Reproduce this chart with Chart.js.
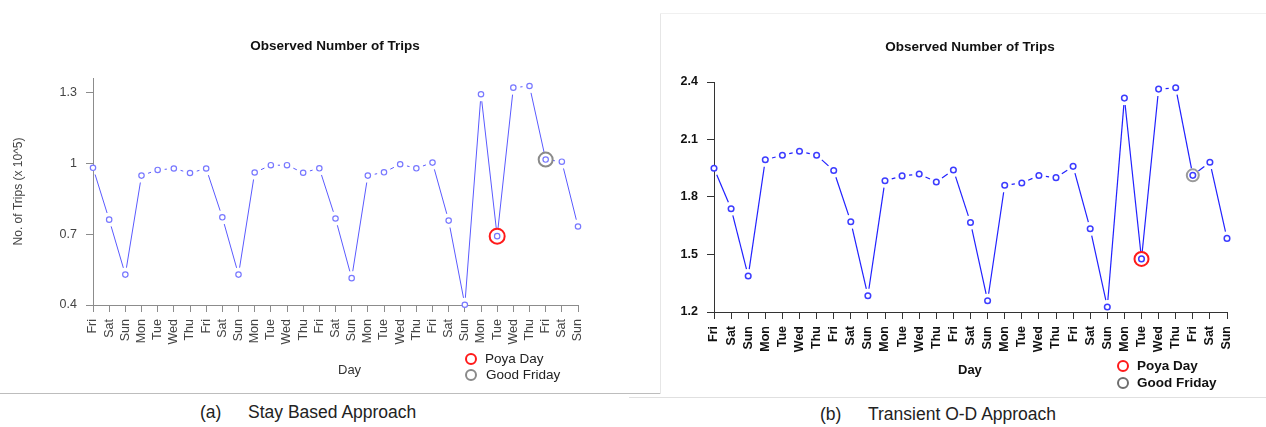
<!DOCTYPE html>
<html>
<head>
<meta charset="utf-8">
<script src="https://cdn.jsdelivr.net/npm/chart.js@4.4.0/dist/chart.umd.min.js"></script>
<style>
body { margin:0; background:#fff; width:1266px; height:427px; position:relative; overflow:hidden; font-family:"Liberation Sans", Arial, sans-serif; }
canvas { position:absolute; }
.linha { position:absolute; }
.txt { position:absolute; white-space:nowrap; line-height:1; }
.titulo { position:absolute; font-size:13.5px; font-weight:bold; color:#111; transform:translateX(-50%); white-space:nowrap; line-height:1; }
.circ { position:absolute; width:12px; height:12px; border-radius:50%; border:2px solid; box-sizing:border-box; }
</style>
</head>
<body>
<!-- bordas dos paineis -->
<div class="linha" style="left:0;top:393px;width:660px;height:1px;background:#bdbdbd"></div>
<div class="linha" style="left:660px;top:13px;width:1px;height:381px;background:#e6e6e6"></div>
<div class="linha" style="left:660px;top:13px;width:606px;height:1px;background:#f0f0f0"></div>
<div class="linha" style="left:629px;top:397px;width:637px;height:1px;background:#e0e0e0"></div>

<canvas id="graficoA" width="660" height="393" style="left:0;top:0"></canvas>
<canvas id="graficoB" width="606" height="397" style="left:660px;top:0"></canvas>

<div class="titulo" style="left:335px;top:39px">Observed Number of Trips</div>
<div class="titulo" style="left:970px;top:40px">Observed Number of Trips</div>

<!-- eixo x e legenda (a) -->
<div class="txt" style="left:338px;top:363px;font-size:13px;color:#333">Day</div>
<div class="circ" style="left:465px;top:353px;border-color:#ff1a1a"></div>
<div class="txt" style="left:485px;top:352px;font-size:13.5px;color:#222">Poya Day</div>
<div class="circ" style="left:465px;top:369px;border-color:#8a8a8a"></div>
<div class="txt" style="left:486px;top:368px;font-size:13.5px;color:#222">Good Friday</div>

<!-- eixo x e legenda (b) -->
<div class="txt" style="left:958px;top:363px;font-size:13px;font-weight:bold;color:#111">Day</div>
<div class="circ" style="left:1117px;top:360px;border-color:#ff1a1a"></div>
<div class="txt" style="left:1137px;top:359px;font-size:13.5px;font-weight:bold;color:#111">Poya Day</div>
<div class="circ" style="left:1117px;top:377px;border-color:#6e6e6e"></div>
<div class="txt" style="left:1137px;top:376px;font-size:13.5px;font-weight:bold;color:#111">Good Friday</div>

<!-- legendas das figuras -->
<div class="txt" style="left:200px;top:404px;font-size:17.5px;color:#222">(a)</div>
<div class="txt" style="left:248px;top:404px;font-size:17.5px;color:#222">Stay Based Approach</div>
<div class="txt" style="left:820px;top:406px;font-size:17.5px;color:#222">(b)</div>
<div class="txt" style="left:868px;top:406px;font-size:17.5px;color:#222">Transient O-D Approach</div>

<script>
// Dados
const dias = ['Fri','Sat','Sun','Mon','Tue','Wed','Thu',
              'Fri','Sat','Sun','Mon','Tue','Wed','Thu',
              'Fri','Sat','Sun','Mon','Tue','Wed','Thu',
              'Fri','Sat','Sun','Mon','Tue','Wed','Thu',
              'Fri','Sat','Sun'];

// (a) Stay Based Approach, x 10^5
const viagensEstadia = [0.982,0.762,0.529,0.949,0.973,0.979,0.960,
                        0.979,0.772,0.529,0.962,0.993,0.993,0.961,
                        0.980,0.767,0.514,0.949,0.963,0.997,0.980,
                        1.004,0.758,0.401,1.294,0.692,1.322,1.329,
                        1.017,1.008,0.733];

// (b) Transient O-D Approach
const viagensOD = [1.950,1.739,1.388,1.994,2.018,2.039,2.018,
                   1.938,1.671,1.285,1.885,1.910,1.920,1.878,
                   1.941,1.667,1.259,1.861,1.873,1.912,1.901,
                   1.960,1.634,1.226,2.316,1.477,2.363,2.370,
                   1.913,1.981,1.584];

const ticksEstadia = [0.4, 0.7, 1, 1.3];
const ticksOD = [1.2, 1.5, 1.8, 2.1, 2.4];

const indicePoya = 25;       // Tue
const indiceSextaSanta = 28; // Fri

Chart.defaults.font.family = '"Liberation Sans", Arial, sans-serif';

// so o valor do dia marcado, resto null
function soDia(valores, idx) {
    return valores.map((v, i) => i === idx ? v : null);
}

// linha com folga perto dos pontos (tipo "b" do R)
const linhaComFolga = {
    id: 'linhaComFolga',
    beforeDatasetsDraw(chart, args, opts) {
        const pts = chart.getDatasetMeta(0).data;
        const ctx = chart.ctx;
        ctx.save();
        ctx.strokeStyle = opts.cor;
        ctx.lineWidth = opts.largura;
        for (let i = 1; i < pts.length; i++) {
            const a = pts[i - 1], b = pts[i];
            const dx = b.x - a.x, dy = b.y - a.y;
            const d = Math.hypot(dx, dy);
            if (d <= 2 * opts.folga) continue;
            const ux = dx / d, uy = dy / d;
            ctx.beginPath();
            ctx.moveTo(a.x + ux * opts.folga, a.y + uy * opts.folga);
            ctx.lineTo(b.x - ux * opts.folga, b.y - uy * opts.folga);
            ctx.stroke();
        }
        ctx.restore();
    }
};

function criarGrafico(id, valores, ticks, cfg) {
    const ctx = document.getElementById(id).getContext('2d');
    return new Chart(ctx, {
        type: 'line',
        data: {
            labels: dias,
            datasets: [
                { data: valores, showLine: false, pointRadius: cfg.raioPonto, pointBorderWidth: cfg.larguraPonto,
                  pointBorderColor: cfg.corPonto, pointBackgroundColor: '#fff', clip: false },
                { data: soDia(valores, indicePoya), showLine: false, pointRadius: cfg.raioPoya,
                  pointBorderWidth: 2, pointBorderColor: '#ff1a1a', pointBackgroundColor: 'rgba(0,0,0,0)', clip: false },
                { data: soDia(valores, indiceSextaSanta), showLine: false, pointRadius: cfg.raioSexta,
                  pointBorderWidth: 2, pointBorderColor: cfg.corSexta, pointBackgroundColor: 'rgba(0,0,0,0)', clip: false }
            ]
        },
        plugins: [linhaComFolga],
        options: {
            responsive: false,
            animation: false,
            events: [],
            layout: { padding: { left: 0, right: cfg.padDireita, top: cfg.padTopo, bottom: 0 } },
            plugins: {
                legend: { display: false },
                tooltip: { enabled: false },
                title: { display: false },
                linhaComFolga: { cor: cfg.corLinha, largura: cfg.larguraLinha, folga: 7 }
            },
            scales: {
                x: {
                    offset: false,
                    grid: { display: true, drawOnChartArea: false, drawTicks: true, tickLength: 7, color: cfg.corEixo },
                    border: { display: true, color: cfg.corEixo, width: 1 },
                    ticks: { autoSkip: false, minRotation: 90, maxRotation: 90, padding: 7,
                             color: cfg.corTexto, font: { size: 12.5, weight: cfg.pesoTexto } },
                    afterFit: s => { s.height = cfg.alturaX; }
                },
                y: {
                    min: ticks[0],
                    max: cfg.maxY,
                    grid: { display: true, drawOnChartArea: false, drawTicks: true, tickLength: 7, color: cfg.corEixo },
                    border: { display: true, color: cfg.corEixo, width: 1 },
                    ticks: { padding: 9, color: cfg.corTexto, font: { size: 12.5, weight: cfg.pesoTexto },
                             callback: v => String(v) },
                    afterBuildTicks: s => { s.ticks = ticks.map(v => ({ value: v })); },
                    afterFit: s => { s.width = cfg.larguraY; },
                    title: {
                        display: !!cfg.tituloY,
                        text: cfg.tituloY || '',
                        color: '#444',
                        font: { size: 12 },
                        padding: { top: 11, bottom: 0 }
                    }
                }
            }
        }
    });
}

criarGrafico('graficoA', viagensEstadia, ticksEstadia, {
    corLinha: '#5a5aff', larguraLinha: 1, corPonto: '#7878ff', larguraPonto: 1.2, raioPonto: 2.7,
    raioPoya: 7.5, raioSexta: 7, corSexta: '#8a8a8a',
    corEixo: '#8c8c8c', corTexto: '#444', pesoTexto: 'normal',
    padDireita: 82, padTopo: 78, alturaX: 88, larguraY: 93,
    maxY: 1.363, tituloY: 'No. of Trips (x 10^5)'
});

criarGrafico('graficoB', viagensOD, ticksOD, {
    corLinha: '#2020ff', larguraLinha: 1.2, corPonto: '#3c3cff', larguraPonto: 1.5, raioPonto: 2.8,
    raioPoya: 7, raioSexta: 6, corSexta: '#9a9a9a',
    corEixo: '#333', corTexto: '#111', pesoTexto: 'bold',
    padDireita: 39, padTopo: 82, alturaX: 85, larguraY: 54,
    maxY: 2.4, tituloY: null
});
</script>
</body>
</html>
